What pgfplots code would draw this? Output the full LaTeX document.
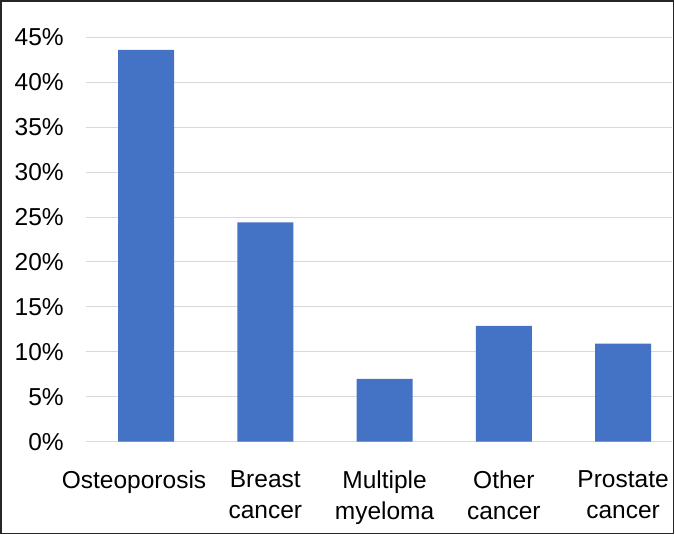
\documentclass[border=0pt]{standalone}
\usepackage{fontspec}
\setmainfont{Liberation Sans}
\usepackage{pgfplots}
\pgfplotsset{compat=1.18}
\definecolor{barblue}{HTML}{4472C4}
\definecolor{gridgray}{HTML}{D9D9D9}
\newcommand{\lbl}{\fontsize{24.5bp}{30.5bp}\selectfont}
\begin{document}
\begin{tikzpicture}
  \useasboundingbox (0,0) rectangle (675bp,535bp);
  \begin{axis}[
    at={(86.4bp,93.3bp)}, anchor=south west,
    scale only axis,
    width=585.6bp, height=404.4bp,
    ybar, bar width=56bp,
    xmin=-0.5, xmax=4.41,
    ymin=0, ymax=45,
    xtick=data,
    xticklabels={\hspace*{-24bp}Osteoporosis, Breast\\cancer, Multiple\\myeloma, Other\\cancer, Prostate\\cancer},
    ytick={0,5,...,45},
    yticklabel={\pgfmathprintnumber[assume math mode=true]{\tick}\%},
    x tick label style={font=\lbl, align=center, anchor=north, inner sep=0pt, yshift=-24.7bp},
    y tick label style={font=\lbl, anchor=east, inner sep=0pt, xshift=-22.5bp},
    axis line style={draw=none},
    major tick style={draw=none},
    ymajorgrids,
    major grid style={draw=gridgray, line width=1bp},
  ]
    \addplot[fill=barblue, draw=none] coordinates {
      (0, 43.6) (1, 24.4) (2, 7.0) (3, 12.9) (4, 10.9)
    };
  \end{axis}
  \draw[line width=1.6bp, black!85] (0.8bp,1.5bp) rectangle (673.6bp,534.2bp);
\end{tikzpicture}
\end{document}
